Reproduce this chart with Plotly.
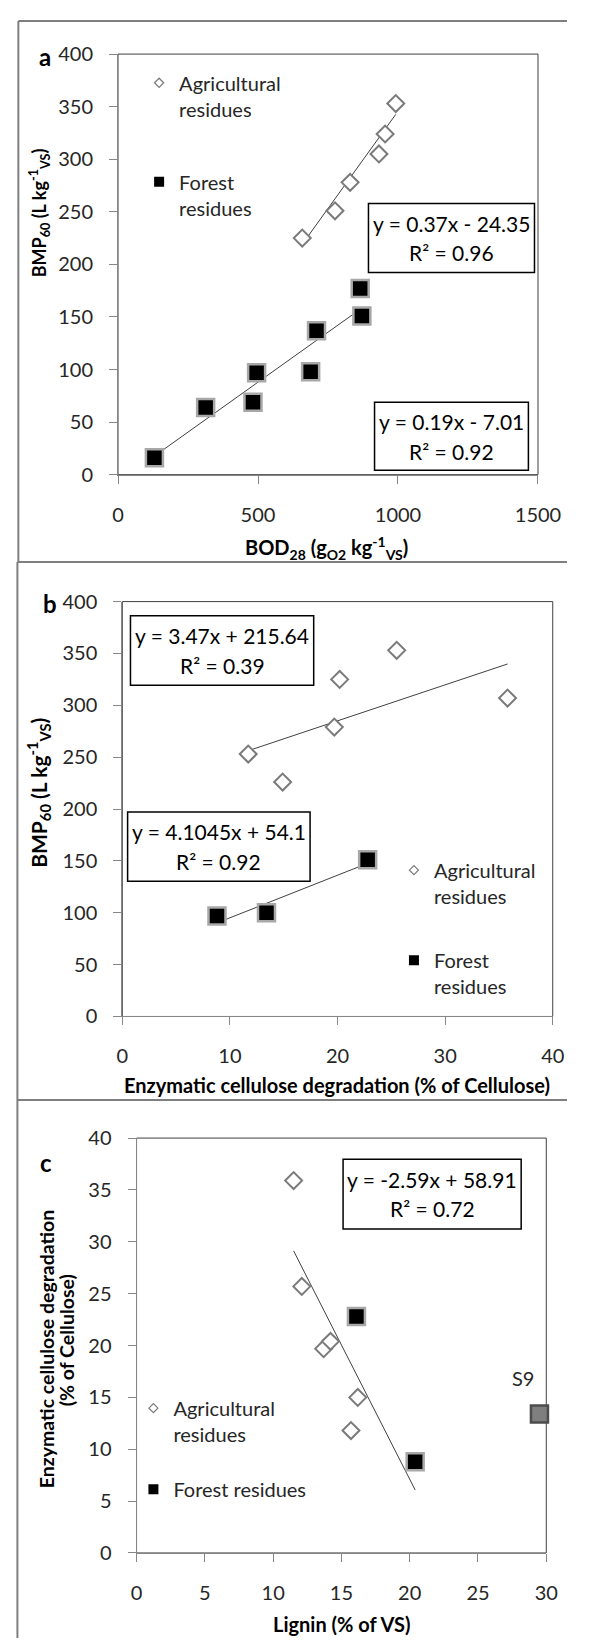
import plotly.graph_objects as go

W, H = 590, 1649
FONT = "Lato"
TXT = "#262626"
AX = "#868686"

# ---- data ----
# a: BMP60 vs BOD28
a_agri_bod = [658, 775, 829, 932, 954, 992]
a_agri_bmp = [225, 251, 278, 305, 324, 353]
a_forest_bod = [130, 313, 482, 495, 688, 709, 865, 871]
a_forest_bmp = [16, 64, 69, 97, 98, 137, 177, 151]
a_fit_agri = [0.37, -24.35]
a_fit_forest = [0.19, -7.01]
a_eq_agri = ["y = 0.37x - 24.35", "R² = 0.96"]
a_eq_forest = ["y = 0.19x - 7.01", "R² = 0.92"]

# b: BMP60 vs enzymatic cellulose degradation
b_agri_enz = [11.7, 14.9, 19.7, 20.2, 25.5, 35.8]
b_agri_bmp = [253, 226, 279, 325, 353, 307]
b_forest_enz = [8.8, 13.4, 22.8]
b_forest_bmp = [97, 100, 151]
b_fit_agri = [3.47, 215.64]
b_fit_forest = [4.1045, 54.1]
b_eq_agri = ["y = 3.47x + 215.64", "R² = 0.39"]
b_eq_forest = ["y = 4.1045x + 54.1", "R² = 0.92"]

# c: enzymatic cellulose degradation vs lignin
c_agri_lig = [11.5, 12.1, 13.7, 14.2, 15.7, 16.2]
c_agri_enz = [35.9, 25.7, 19.7, 20.4, 11.8, 15.0]
c_forest_lig = [16.1, 20.4]
c_forest_enz = [22.8, 8.8]
c_s9_lig = [29.5]
c_s9_enz = [13.4]
c_fit = [-2.59, 58.91]
c_eq = ["y = -2.59x + 58.91", "R² = 0.72"]


def px(x):
    return x / W


def py(y):
    return 1 - y / H


def fit_line(coef, xs):
    x0, x1 = min(xs), max(xs)
    return [x0, x1], [coef[0] * x0 + coef[1], coef[0] * x1 + coef[1]]


agri_mk = dict(symbol="diamond", size=13, color="white", line=dict(color="#7a7a7a", width=2))
forest_mk = dict(symbol="square", size=17, color="black", line=dict(color="#a8a8a8", width=2.5))
line_st = dict(color="#404040", width=1)

fig = go.Figure()

panels = [
    ("x", "y", "legend", a_agri_bod, a_agri_bmp, a_forest_bod, a_forest_bmp),
    ("x2", "y2", "legend2", b_agri_enz, b_agri_bmp, b_forest_enz, b_forest_bmp),
    ("x3", "y3", "legend3", c_agri_lig, c_agri_enz, c_forest_lig, c_forest_enz),
]
fits = [(a_fit_agri, a_fit_forest), (b_fit_agri, b_fit_forest), (c_fit, None)]

for (xa, ya, lg, ax_, ay_, fx_, fy_), (f1, f2) in zip(panels, fits):
    if f2 is None:
        lx, ly = fit_line(f1, ax_ + fx_)
        fig.add_trace(go.Scatter(x=lx, y=ly, mode="lines", line=line_st, xaxis=xa, yaxis=ya, showlegend=False))
    else:
        lx, ly = fit_line(f1, ax_)
        fig.add_trace(go.Scatter(x=lx, y=ly, mode="lines", line=line_st, xaxis=xa, yaxis=ya, showlegend=False))
        lx, ly = fit_line(f2, fx_)
        fig.add_trace(go.Scatter(x=lx, y=ly, mode="lines", line=line_st, xaxis=xa, yaxis=ya, showlegend=False))
    fig.add_trace(go.Scatter(x=ax_, y=ay_, mode="markers", marker=agri_mk, xaxis=xa, yaxis=ya,
                             showlegend=False, cliponaxis=False))
    fig.add_trace(go.Scatter(x=fx_, y=fy_, mode="markers", marker=forest_mk, xaxis=xa, yaxis=ya,
                             showlegend=False, cliponaxis=False))
    # legend entries (smaller symbols than the data markers)
    fig.add_trace(go.Scatter(x=[None], y=[None], mode="markers", xaxis=xa, yaxis=ya,
                             marker=dict(symbol="diamond", size=7, color="white",
                                         line=dict(color="#7a7a7a", width=1.2)),
                             name="Agricultural<br>residues", legend=lg, legendgroup=lg + "a"))
    fname = "Forest residues" if lg == "legend3" else "Forest<br>residues"
    fig.add_trace(go.Scatter(x=[None], y=[None], mode="markers", xaxis=xa, yaxis=ya,
                             marker=dict(symbol="square", size=10, color="black"),
                             name=fname, legend=lg, legendgroup=lg + "f"))

# S9 outlier
fig.add_trace(go.Scatter(x=c_s9_lig, y=c_s9_enz, mode="markers", xaxis="x3", yaxis="y3",
                         marker=dict(symbol="square", size=17, color="#7f7f7f",
                                     line=dict(color="#4d4d4d", width=2.5)),
                         showlegend=False, cliponaxis=False))


def axis(domain, rng, dtick, anchor, xdir=True):
    return dict(domain=domain, range=rng, dtick=dtick, anchor=anchor,
                showline=True, linecolor=AX, linewidth=1, ticks="outside", ticklen=8,
                tickcolor=AX, showgrid=False, zeroline=False,
                ticklabelstandoff=14 if xdir else 12,
                tickfont=dict(family=FONT, size=20, color=TXT))


boxes = [  # plot area pixel boxes: left, right, top, bottom
    (117.8, 559.5, 41.7, 468.5),
    (122.3, 575.0, 597.3, 1018.3),
    (137.3, 568.2, 1141.7, 1562.7),
]
ranges = [([0, 1500], 500, [0, 400], 50), ([0, 40], 10, [0, 400], 50), ([0, 30], 5, [0, 40], 5)]

lay = {}
shapes = []
for i, ((l, r, t, b), (xr, xd, yr, yd)) in enumerate(zip(boxes, ranges)):
    sfx = "" if i == 0 else str(i + 1)
    lay["xaxis" + sfx] = axis([px(l), px(r)], xr, xd, "y" + sfx, True)
    lay["yaxis" + sfx] = axis([py(b), py(t)], yr, yd, "x" + sfx, False)
    shapes.append(dict(type="rect", xref="x" + sfx + " domain", yref="y" + sfx + " domain",
                       x0=0, x1=1, y0=0, y1=1, line=dict(color="#3f3f3f", width=1), layer="below"))

# outer panel frames
for left, top, bottom in [(13, 8, 557), (12, 557, 1103), (12, 1103, 1649)]:
    shapes.append(dict(type="line", xref="paper", yref="paper", x0=px(left), x1=px(left),
                       y0=py(top), y1=py(bottom), line=dict(color="#7f7f7f", width=2)))
    shapes.append(dict(type="line", xref="paper", yref="paper", x0=px(left), x1=1,
                       y0=py(top), y1=py(top), line=dict(color="#7f7f7f", width=2)))

annots = []


def eq_box(lines, l, r, t, b):
    shapes.append(dict(type="rect", xref="paper", yref="paper", x0=px(l), x1=px(r),
                       y0=py(b), y1=py(t), line=dict(color="black", width=1.5),
                       fillcolor="white", layer="above"))
    cx = (l + r) / 2
    cy = (t + b) / 2
    for k, s in enumerate(lines):
        annots.append(dict(text=s, xref="paper", yref="paper", x=px(cx), y=py(cy - 15 + 30 * k),
                           xanchor="center", yanchor="middle", showarrow=False,
                           font=dict(family=FONT, size=21, color="black")))


eq_box(a_eq_agri, 381.2, 555.8, 193.3, 263.3)
eq_box(a_eq_forest, 387.6, 549.4, 395, 464)
eq_box(b_eq_agri, 130.9, 323.6, 611.7, 682.3)
eq_box(b_eq_forest, 127.9, 319.8, 810.7, 881)
eq_box(c_eq, 354.5, 541.8, 1163.3, 1234)


def label(text, x, y, size=20, angle=0, bold=True):
    annots.append(dict(text="<b>" + text + "</b>" if bold else text, xref="paper", yref="paper",
                       x=px(x), y=py(y), xanchor="center", yanchor="middle", showarrow=False,
                       textangle=angle, font=dict(family=FONT, size=size, color="black")))


label("a", 41, 44, size=24)
label("b", 46, 599, size=24)
label("c", 42.5, 1166, size=24)
label("BOD<sub>28</sub> (g<sub>O2</sub> kg<sup>-1</sup><sub>VS</sub>)", 337, 543)
label("Enzymatic cellulose degradation (% of Cellulose)", 348, 1088)
label("Lignin (% of VS)", 353, 1635)
label("BMP<sub>60</sub> (L kg<sup>-1</sup><sub>VS</sub>)", 35, 203, size=18, angle=-90)
label("BMP<sub>60</sub> (L kg<sup>-1</sup><sub>VS</sub>)", 34, 791, size=21, angle=-90)
label("Enzymatic cellulose degradation", 42, 1355, size=19.5, angle=-90)
label("(% of Cellulose)", 63, 1347, size=19.5, angle=-90)

annots.append(dict(text="S9", xref="x3", yref="y3", x=c_s9_lig[0], y=c_s9_enz[0], xshift=-16, yshift=36,
                   showarrow=False, font=dict(family=FONT, size=20, color=TXT)))


def legend(x, y, gap):
    return dict(x=px(x), y=py(y), xanchor="left", yanchor="top", bgcolor="rgba(0,0,0,0)",
                font=dict(family=FONT, size=20, color=TXT), valign="top",
                tracegroupgap=gap, traceorder="grouped", itemsizing="trace")


fig.update_layout(
    width=W, height=H, margin=dict(l=0, r=0, t=0, b=0),
    paper_bgcolor="white", plot_bgcolor="white",
    legend=legend(140, 51, 44),
    legend2=legend(408, 850, 35),
    legend3=legend(134, 1396, 26),
    shapes=shapes, annotations=annots, **lay,
)

fig.write_html(
    "out.html",
    config={"displayModeBar": False},
    post_script="document.documentElement.style.margin='0';document.body.style.margin='0';"
                "document.body.style.padding='0';document.body.style.overflow='hidden';",
)
